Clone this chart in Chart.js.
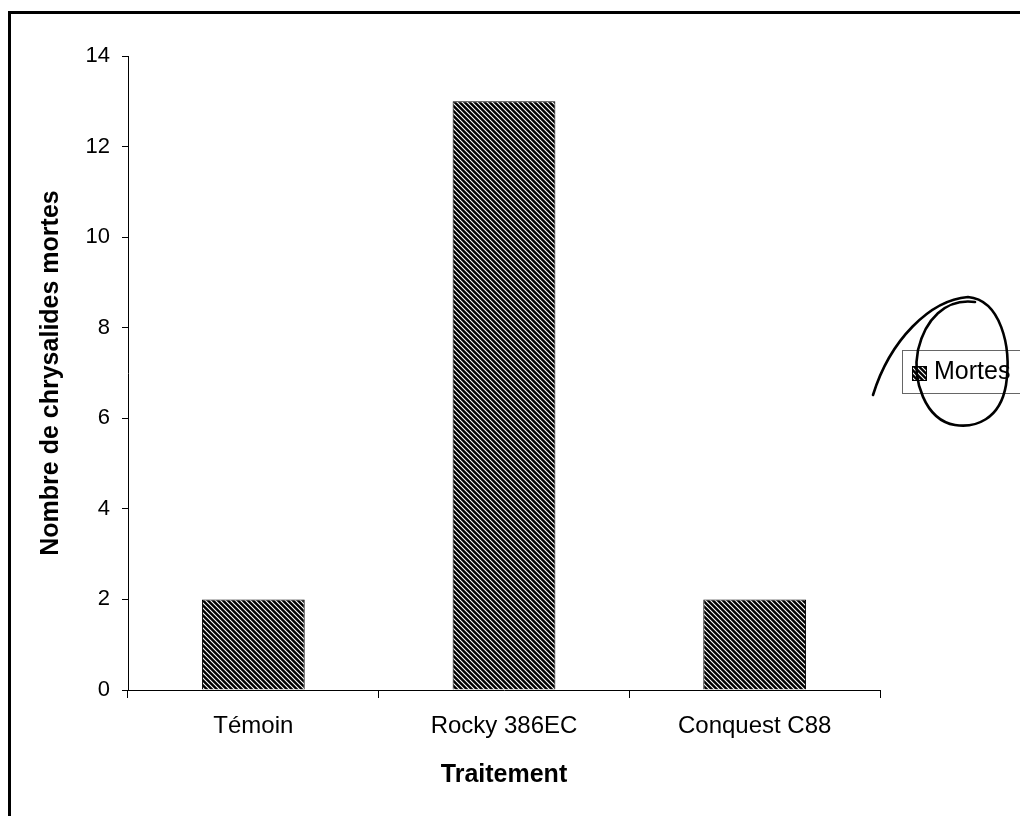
<!DOCTYPE html>
<html>
<head>
<meta charset="utf-8">
<script src="https://cdn.jsdelivr.net/npm/chart.js@4/dist/chart.umd.min.js"></script>
<style>
  html, body { margin: 0; padding: 0; background: #fff; }
  #wrap { width: 1020px; height: 816px; }
</style>
</head>
<body>
<div id="wrap"><canvas id="chart" width="1020" height="816"></canvas></div>
<script>
// Chart data
const categories = ['Témoin', 'Rocky 386EC', 'Conquest C88'];
const deadPupae = [2, 13, 2];
const seriesLabel = 'Mortes';
const yMin = 0;
const yMax = 14;
const yStep = 2;

const FONT = 'Arial, "Liberation Sans", sans-serif';

const canvas = document.getElementById('chart');
const ctx = canvas.getContext('2d');

// Black fill with thin white "\" stripes, like the printed hatching
function makeHatch(context) {
    const tile = document.createElement('canvas');
    tile.width = 5;
    tile.height = 5;
    const g = tile.getContext('2d');
    g.fillStyle = '#000';
    g.fillRect(0, 0, 5, 5);
    g.strokeStyle = '#fff';
    g.lineWidth = 1.1;
    g.beginPath();
    g.moveTo(-1, -1); g.lineTo(6, 6);
    g.moveTo(-1, 4); g.lineTo(1, 6);
    g.moveTo(4, -1); g.lineTo(6, 1);
    g.stroke();
    return context.createPattern(tile, 'repeat');
}
const hatch = makeHatch(ctx);

// White page plus the scanned frame (left and top edges)
const framePlugin = {
    id: 'frame',
    beforeDraw(chart) {
        const c = chart.ctx;
        c.save();
        c.fillStyle = '#fff';
        c.fillRect(0, 0, chart.width, chart.height);
        c.strokeStyle = '#000';
        c.lineWidth = 3;
        c.beginPath();
        c.moveTo(9.5, chart.height);
        c.lineTo(9.5, 12.5);
        c.lineTo(chart.width, 12.5);
        c.stroke();
        c.restore();
    }
};

// Legend box on the right, partly cut off by the page edge
const legendPlugin = {
    id: 'boxLegend',
    afterDraw(chart) {
        const c = chart.ctx;
        const ds = chart.data.datasets[0];
        c.save();
        c.strokeStyle = '#666';
        c.lineWidth = 1;
        c.strokeRect(902.5, 350.5, 140, 43);
        c.fillStyle = hatch;
        c.fillRect(912, 366, 15, 15);
        c.strokeStyle = '#000';
        c.strokeRect(912.5, 366.5, 14, 14);
        c.fillStyle = '#000';
        c.font = '25px ' + FONT;
        c.textBaseline = 'middle';
        c.textAlign = 'left';
        c.fillText(ds.label, 934, 372);
        c.restore();
    }
};

// Hand-drawn pen circle around the legend
const penPlugin = {
    id: 'penMark',
    afterDraw(chart) {
        const c = chart.ctx;
        c.save();
        c.strokeStyle = '#000';
        c.lineWidth = 2.6;
        c.lineCap = 'round';
        c.beginPath();
        c.moveTo(873, 395);
        c.bezierCurveTo(890, 340, 930, 300, 968, 297);
        c.bezierCurveTo(1000, 300, 1012, 345, 1006, 385);
        c.bezierCurveTo(1000, 420, 975, 428, 955, 425);
        c.bezierCurveTo(925, 420, 912, 380, 918, 350);
        c.bezierCurveTo(925, 320, 945, 298, 975, 302);
        c.stroke();
        c.restore();
    }
};

new Chart(ctx, {
    type: 'bar',
    data: {
        labels: categories,
        datasets: [{
            label: seriesLabel,
            data: deadPupae,
            backgroundColor: hatch,
            borderColor: '#000',
            borderWidth: 1,
            barPercentage: 0.41,
            categoryPercentage: 1
        }]
    },
    options: {
        responsive: false,
        animation: false,
        layout: {
            padding: { left: 0, top: 56, right: 140, bottom: 0 }
        },
        plugins: {
            legend: { display: false },
            tooltip: { enabled: false }
        },
        scales: {
            x: {
                afterFit: scale => { scale.height = 126; },
                grid: {
                    display: true,
                    drawOnChartArea: false,
                    drawTicks: true,
                    tickLength: 8,
                    color: '#000',
                    offset: true
                },
                border: { color: '#000', width: 1 },
                ticks: {
                    color: '#000',
                    padding: 14,
                    font: { family: FONT, size: 24 }
                },
                title: {
                    display: true,
                    text: 'Traitement',
                    color: '#000',
                    font: { family: FONT, size: 25, weight: 'bold' },
                    padding: { top: 0, bottom: 26 }
                }
            },
            y: {
                min: yMin,
                max: yMax,
                afterFit: scale => { scale.width = 128; },
                grid: {
                    display: true,
                    drawOnChartArea: false,
                    drawTicks: true,
                    tickLength: 6,
                    color: '#000'
                },
                border: { color: '#000', width: 1 },
                ticks: {
                    stepSize: yStep,
                    color: '#000',
                    padding: 12,
                    font: { family: FONT, size: 22 }
                },
                title: {
                    display: true,
                    text: 'Nombre de chrysalides mortes',
                    color: '#000',
                    font: { family: FONT, size: 25, weight: 'bold' },
                    padding: { top: 36, bottom: 0 }
                }
            }
        }
    },
    plugins: [framePlugin, legendPlugin, penPlugin]
});
</script>
</body>
</html>
